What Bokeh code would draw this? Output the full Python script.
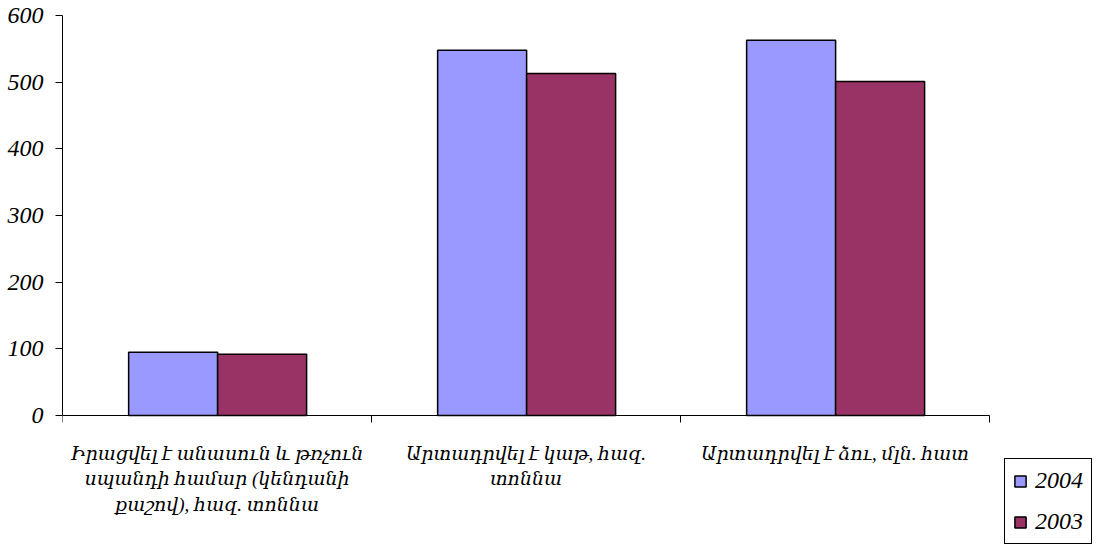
from bokeh.plotting import figure
from bokeh.models import Range1d, FixedTicker, Legend, LegendItem, ColumnDataSource
from bokeh.embed import file_html
from bokeh.resources import INLINE

categories = [
    "Իրացվել է անասուն և թռչուն\nսպանդի համար (կենդանի\nքաշով), հազ. տոննա",
    "Արտադրվել է կաթ, հազ.\nտոննա",
    "Արտադրվել է ձու, մլն. հատ",
]
values_2004 = [95, 548, 563]
values_2003 = [92, 513, 501]
series_names = ["2004", "2003"]
y_ticks = [0, 100, 200, 300, 400, 500, 600]

FONT = "'Liberation Serif', 'DejaVu Serif', serif"
C2004 = "#9999FF"
C2003 = "#993366"

W, H = 1093, 545
LEFT, TOP = 62, 15
AXIS_RIGHT, AXIS_BOTTOM = 989, 415
ncat = len(categories)
ymax = y_ticks[-1]
x_end = ncat * (W - LEFT) / (AXIS_RIGHT - LEFT)
y_start = ymax - (H - TOP) * ymax / (AXIS_BOTTOM - TOP)

p = figure(width=W, height=H, output_backend="svg", toolbar_location=None,
           x_range=Range1d(0, x_end), y_range=Range1d(y_start, ymax),
           min_border_left=LEFT, min_border_right=0, min_border_top=TOP, min_border_bottom=0)
p.outline_line_color = None
p.xgrid.visible = False
p.ygrid.visible = False

bw = 0.288
idx = list(range(ncat))
src04 = ColumnDataSource(dict(x=[i + 0.214 + bw / 2 for i in idx], top=values_2004))
src03 = ColumnDataSource(dict(x=[i + 0.214 + bw * 1.5 for i in idx], top=values_2003))
bar_kw = dict(width=bw, bottom=0, line_color="black", line_width=1.5)
r04 = p.vbar(x="x", top="top", source=src04, fill_color=C2004, **bar_kw)
r03 = p.vbar(x="x", top="top", source=src03, fill_color=C2003, **bar_kw)

# x axis pinned at y = 0
xa = p.xaxis[0]
xa.fixed_location = 0
xa.bounds = (0, ncat)
xa.ticker = FixedTicker(ticks=[i + 0.5 for i in idx], minor_ticks=list(range(ncat + 1)))
xa.major_label_overrides = {i + 0.5: c for i, c in zip(idx, categories)}
xa.major_tick_line_color = None
xa.major_tick_out = 0
xa.major_tick_in = 0
xa.minor_tick_in = 0
xa.minor_tick_out = 7
xa.minor_tick_line_color = "black"
xa.axis_line_color = "black"
xa.major_label_text_font = FONT
xa.major_label_text_font_style = "italic"
xa.major_label_text_font_size = "19px"
xa.major_label_text_color = "black"
xa.major_label_standoff = 20
xa.major_label_text_line_height = 1.22

# y axis
ya = p.yaxis[0]
ya.bounds = (0, ymax)
ya.ticker = FixedTicker(ticks=y_ticks)
ya.minor_tick_line_color = None
ya.major_tick_in = 0
ya.major_tick_out = 7
ya.axis_line_color = "black"
ya.major_tick_line_color = "black"
ya.major_label_text_font = FONT
ya.major_label_text_font_style = "italic"
ya.major_label_text_font_size = "24px"
ya.major_label_text_color = "black"
ya.major_label_standoff = 12

legend = Legend(items=[LegendItem(label=series_names[0], renderers=[r04]),
                       LegendItem(label=series_names[1], renderers=[r03])],
                location="bottom_right")
legend.border_line_color = "black"
legend.border_line_alpha = 1
legend.border_line_width = 1
legend.background_fill_color = "white"
legend.background_fill_alpha = 1
legend.label_text_font = FONT
legend.label_text_font_style = "italic"
legend.label_text_font_size = "24px"
legend.label_text_color = "black"
legend.glyph_width = 14
legend.glyph_height = 14
legend.label_height = 24
legend.spacing = 14
legend.padding = 8
legend.margin = 1
legend.label_standoff = 8
p.add_layout(legend, "center")

open("out.html", "w").write(file_html(p, INLINE))
